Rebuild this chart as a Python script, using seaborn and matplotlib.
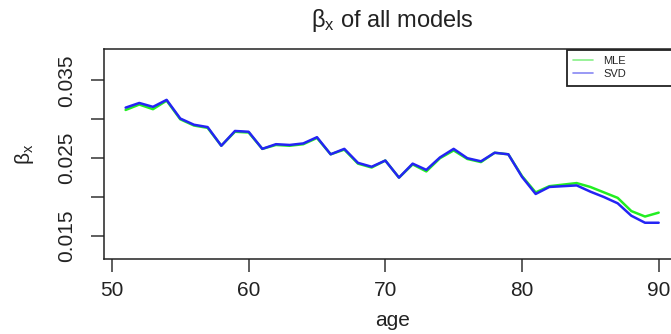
import matplotlib
matplotlib.use("Agg")
import matplotlib.pyplot as plt
import seaborn as sns
import pandas as pd
from matplotlib.lines import Line2D

ages = list(range(51, 91))
svd = [0.0315, 0.0321, 0.0316, 0.0325, 0.0301, 0.0293, 0.0290, 0.0266, 0.0285, 0.0284,
       0.0262, 0.0268, 0.0267, 0.0269, 0.0277, 0.0255, 0.0262, 0.0244, 0.0239, 0.0247,
       0.0225, 0.0243, 0.0235, 0.0251, 0.0262, 0.0250, 0.0246, 0.0257, 0.0255, 0.0226,
       0.0204, 0.0213, 0.0214, 0.0215, 0.0207, 0.0200, 0.0192, 0.0176, 0.0167, 0.0167]
mle = [0.0312, 0.0319, 0.0313, 0.0324, 0.0300, 0.0292, 0.0289, 0.0266, 0.0284, 0.0283,
       0.0262, 0.0267, 0.0266, 0.0268, 0.0276, 0.0255, 0.0261, 0.0243, 0.0238, 0.0247,
       0.0225, 0.0242, 0.0233, 0.0250, 0.0260, 0.0249, 0.0245, 0.0257, 0.0255, 0.0227,
       0.0206, 0.0214, 0.0216, 0.0218, 0.0213, 0.0206, 0.0199, 0.0182, 0.0175, 0.0180]
models = ["MLE", "SVD"]
xticks = [50, 60, 70, 80, 90]
yticks = [0.015, 0.020, 0.025, 0.030, 0.035]
ytick_labels = ["0.015", "", "0.025", "", "0.035"]

df = pd.DataFrame({
    "age": ages * 2,
    "beta": mle + svd,
    "model": ["MLE"] * len(ages) + ["SVD"] * len(ages),
})

sns.set_style("white")
plt.rcParams["font.family"] = ["Liberation Sans", "DejaVu Sans"]
plt.rcParams["mathtext.fontset"] = "custom"
plt.rcParams["mathtext.rm"] = "Liberation Sans"
plt.rcParams["mathtext.it"] = "Liberation Sans"
plt.rcParams["mathtext.bf"] = "Liberation Sans:bold"

W, H = 671, 334
fig = plt.figure(figsize=(W / 100, H / 100), dpi=100)
l, r, t, b = 104.3, 680.0, 49.3, 259.3
ax = fig.add_axes([l / W, 1 - b / H, (r - l) / W, (b - t) / H])

palette = {"MLE": "#22ee22", "SVD": "#2424f4"}
sns.lineplot(data=df, x="age", y="beta", hue="model", hue_order=models,
             palette=palette, linewidth=1.8, legend=False, ax=ax)

ax.set_xlim(49.44, 91.56)
ax.set_ylim(0.0120, 0.0390)
ax.set_xticks(xticks)
ax.set_xticklabels([str(v) for v in xticks])
ax.set_yticks(yticks)
ax.set_yticklabels(ytick_labels, rotation=90, va="center")

for s in ax.spines.values():
    s.set_color("#222222")
    s.set_linewidth(1.1)
ax.tick_params(axis="both", which="major", bottom=True, left=True,
               direction="out", length=9.5, width=1.1,
               color="#333333", labelsize=15, labelcolor="#222222")
ax.tick_params(axis="x", pad=6)
ax.tick_params(axis="y", pad=11)

ax.set_xlabel("age", fontsize=15, color="#222222", labelpad=8)
ax.set_ylabel(r"$\beta_x$", fontsize=15, color="#222222", labelpad=15)
ax.set_title(r"$\beta_x$ of all models", fontsize=17, color="#222222", pad=16)

handles = [Line2D([0], [0], color="#88f088", lw=1.2),
           Line2D([0], [0], color="#8888f4", lw=1.2)]
leg = ax.legend(handles, models, loc="upper left",
                bbox_to_anchor=(0.8032, 0.0, 0.1968, 0.9985), mode="expand",
                fontsize=8, frameon=True, fancybox=False, framealpha=1,
                edgecolor="#222222", borderpad=0.6, labelspacing=0.25,
                handlelength=1.8, handletextpad=0.9, borderaxespad=0)
leg.get_frame().set_linewidth(1.3)

fig.savefig("out.png", dpi=100)
